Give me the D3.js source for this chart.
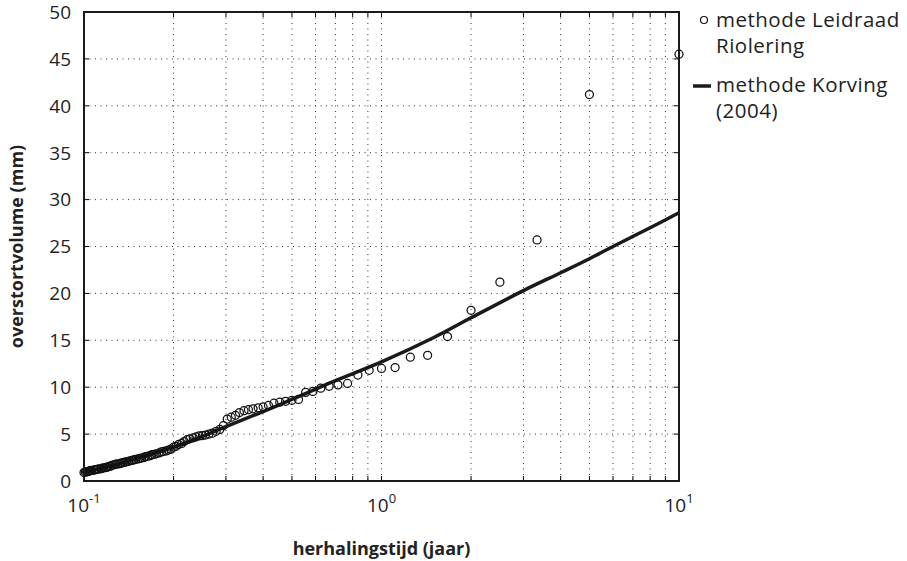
<!DOCTYPE html>
<html>
<head>
<meta charset="utf-8">
<script src="https://cdn.jsdelivr.net/npm/d3@7"></script>
<style>
  body { margin: 0; background: #fff; }
  svg { display: block; font-family: "Open Sans", "Noto Sans", sans-serif; }
</style>
</head>
<body>
<svg id="chart" width="907" height="561"></svg>
<script>
// herhalingstijd T (jaar) van de gerangschikte gebeurtenissen, grootste eerst
const returnPeriod = [
  10, 5, 3.333, 2.5, 2, 1.667, 1.429, 1.25, 1.111, 1,
  0.909, 0.833, 0.769, 0.714, 0.667, 0.625, 0.588, 0.556, 0.526, 0.5,
  0.476, 0.455, 0.435, 0.417, 0.4, 0.385, 0.370, 0.357, 0.345, 0.333,
  0.323, 0.3125, 0.303, 0.294, 0.286, 0.278, 0.270, 0.263, 0.256, 0.25,
  0.244, 0.238, 0.233, 0.227, 0.222, 0.217, 0.213, 0.208, 0.204, 0.2,
  0.196, 0.192, 0.189, 0.185, 0.182, 0.179, 0.175, 0.172, 0.169, 0.167,
  0.164, 0.161, 0.159, 0.156, 0.154, 0.152, 0.149, 0.147, 0.145, 0.143,
  0.141, 0.139, 0.137, 0.135, 0.133, 0.132, 0.130, 0.128, 0.127, 0.125,
  0.123, 0.122, 0.120, 0.119, 0.118, 0.116, 0.115, 0.114, 0.112, 0.111,
  0.110, 0.109, 0.108, 0.106, 0.105, 0.104, 0.103, 0.102, 0.101, 0.1
];
// overstortvolume (mm), methode Leidraad Riolering
const leidraadVolume = [
  45.5, 41.2, 25.7, 21.2, 18.2, 15.4, 13.4, 13.2, 12.1, 12.0,
  11.8, 11.3, 10.4, 10.25, 10.1, 9.9, 9.55, 9.45, 8.7, 8.6,
  8.5, 8.4, 8.3, 8.05, 7.9, 7.8, 7.7, 7.6, 7.5, 7.3,
  7.0, 6.8, 6.6, 5.9, 5.5, 5.3, 5.1, 5.0, 4.9, 4.85,
  4.8, 4.7, 4.6, 4.5, 4.4, 4.2, 4.0, 3.9, 3.7, 3.6,
  3.4, 3.3, 3.2, 3.15, 3.1, 3.0, 2.9, 2.85, 2.8, 2.7,
  2.65, 2.6, 2.5, 2.45, 2.4, 2.35, 2.3, 2.25, 2.2, 2.15,
  2.1, 2.05, 2.0, 1.95, 1.9, 1.85, 1.82, 1.8, 1.75, 1.7,
  1.6, 1.55, 1.5, 1.45, 1.42, 1.4, 1.35, 1.3, 1.28, 1.25,
  1.22, 1.2, 1.15, 1.12, 1.1, 1.05, 1.0, 0.98, 0.95, 0.9
];
// methode Korving (2004)
const korvingT = [0.1, 0.125, 0.15, 0.2, 0.25, 0.3, 0.4, 0.5, 0.7, 1, 1.5, 2, 3, 4, 5, 6, 8, 10];
const korvingVolume = [0.9, 1.65, 2.4, 3.6, 4.75, 5.8, 7.4, 8.7, 10.7, 12.7, 15.3, 17.4, 20.3, 22.2, 23.7, 25.0, 27.0, 28.6];

const yTicks = [0, 5, 10, 15, 20, 25, 30, 35, 40, 45, 50];
const xMajor = [0.1, 1, 10];
const xMajorExp = ['-1', '0', '1'];
const xGrid = [0.2, 0.3, 0.4, 0.5, 0.6, 0.7, 0.8, 0.9, 1, 2, 3, 4, 5, 6, 7, 8, 9];

const CONFIG = { left: 84, right: 679, top: 12, bottom: 481 };

const svg = d3.select('#chart');
const x = d3.scaleLog().domain([0.1, 10]).range([CONFIG.left, CONFIG.right]);
const y = d3.scaleLinear().domain([0, 50]).range([CONFIG.bottom, CONFIG.top]);

// rasterlijnen (gestippeld)
svg.append('g').selectAll('line').data(xGrid).enter().append('line')
  .attr('x1', d => x(d)).attr('x2', d => x(d))
  .attr('y1', CONFIG.top).attr('y2', CONFIG.bottom)
  .attr('stroke', '#333').attr('stroke-width', 1).attr('stroke-dasharray', '1,4.5');
svg.append('g').selectAll('line').data(yTicks.slice(1, -1)).enter().append('line')
  .attr('x1', CONFIG.left).attr('x2', CONFIG.right)
  .attr('y1', d => y(d)).attr('y2', d => y(d))
  .attr('stroke', '#333').attr('stroke-width', 1).attr('stroke-dasharray', '1,4.5');

// kleine tickjes aan binnenkant
const tk = 5;
const ticks = svg.append('g').attr('stroke', '#000').attr('stroke-width', 1);
yTicks.forEach(d => {
  ticks.append('line').attr('x1', CONFIG.left).attr('x2', CONFIG.left + tk).attr('y1', y(d)).attr('y2', y(d));
  ticks.append('line').attr('x1', CONFIG.right - tk).attr('x2', CONFIG.right).attr('y1', y(d)).attr('y2', y(d));
});
xGrid.forEach(d => {
  ticks.append('line').attr('x1', x(d)).attr('x2', x(d)).attr('y1', CONFIG.bottom).attr('y2', CONFIG.bottom - tk);
  ticks.append('line').attr('x1', x(d)).attr('x2', x(d)).attr('y1', CONFIG.top).attr('y2', CONFIG.top + tk);
});

// lijn Korving
const line = d3.line().x(d => x(d[0])).y(d => y(d[1])).curve(d3.curveCatmullRom.alpha(0.5));
svg.append('path')
  .datum(korvingT.map((t, i) => [t, korvingVolume[i]]))
  .attr('d', line)
  .attr('fill', 'none').attr('stroke', '#1a1a1a').attr('stroke-width', 3.5);

// punten Leidraad
svg.append('g').selectAll('circle')
  .data(returnPeriod.map((t, i) => [t, leidraadVolume[i]]))
  .enter().append('circle')
  .attr('cx', d => x(d[0])).attr('cy', d => y(d[1])).attr('r', 4)
  .attr('fill', 'none').attr('stroke', '#111').attr('stroke-width', 1.25);

// kader
svg.append('rect')
  .attr('x', CONFIG.left).attr('y', CONFIG.top)
  .attr('width', CONFIG.right - CONFIG.left).attr('height', CONFIG.bottom - CONFIG.top)
  .attr('fill', 'none').attr('stroke', '#1a1a1a').attr('stroke-width', 2);

// y-as labels
svg.append('g').selectAll('text').data(yTicks).enter().append('text')
  .attr('x', 71).attr('y', d => y(d)).attr('dy', '0.36em')
  .attr('text-anchor', 'end').attr('font-size', 19).attr('fill', '#222')
  .text(d => d);

// x-as labels 10^n
const xl = svg.append('g').selectAll('text').data(xMajor).enter().append('text')
  .attr('x', d => x(d)).attr('y', 512)
  .attr('text-anchor', 'middle').attr('font-size', 19).attr('fill', '#222');
xl.append('tspan').text('10');
xl.append('tspan').attr('dy', -9).attr('font-size', 13).text((d, i) => xMajorExp[i]);

// as titels
svg.append('text')
  .attr('x', x(1)).attr('y', 555)
  .attr('text-anchor', 'middle').attr('font-size', 18).attr('font-weight', 'bold').attr('fill', '#222')
  .text('herhalingstijd (jaar)');
svg.append('text')
  .attr('transform', `translate(23,${(CONFIG.top + CONFIG.bottom) / 2}) rotate(-90)`)
  .attr('text-anchor', 'middle').attr('font-size', 18).attr('font-weight', 'bold').attr('fill', '#222')
  .text('overstortvolume (mm)');

// legenda
const lg = svg.append('g').attr('font-size', 20.5).attr('letter-spacing', 0.5).attr('fill', '#222');
lg.append('circle').attr('cx', 704).attr('cy', 20).attr('r', 3.5)
  .attr('fill', 'none').attr('stroke', '#111').attr('stroke-width', 1.2);
lg.append('text').attr('x', 716).attr('y', 27).text('methode Leidraad');
lg.append('text').attr('x', 716).attr('y', 53).text('Riolering');
lg.append('line').attr('x1', 693).attr('x2', 711).attr('y1', 86).attr('y2', 86)
  .attr('stroke', '#1a1a1a').attr('stroke-width', 3.5);
lg.append('text').attr('x', 716).attr('y', 92).text('methode Korving');
lg.append('text').attr('x', 716).attr('y', 118).text('(2004)');
</script>
</body>
</html>
